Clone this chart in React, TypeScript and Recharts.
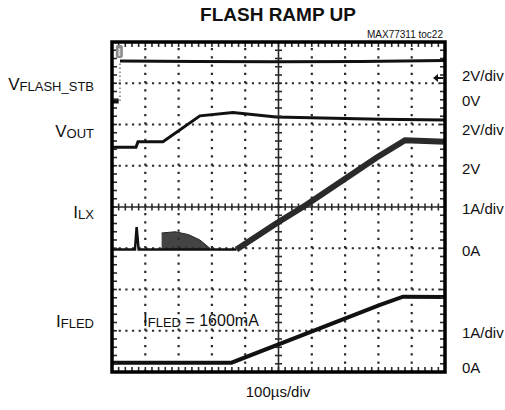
import React from 'react';
import { ComposedChart, Line, Area, XAxis, YAxis, ReferenceLine, ReferenceDot } from 'recharts';

// scope screen: 10 horizontal divisions, 8 vertical divisions
const divX = [0, 1, 2, 3, 4, 5, 6, 7, 8, 9, 10];
const divY = [0, 1, 2, 3, 4, 5, 6, 7, 8];

// traces in divisions (bottom = 0)
const vflashGround = [
  { x: 0, y: 6.57 },
  { x: 0.2, y: 6.57 },
];
const vflashEdge = [
  { x: 0.24, y: 6.57 },
  { x: 0.24, y: 7.54 },
];
const vflash = [
  { x: 0.24, y: 7.54 },
  { x: 2.5, y: 7.53 },
  { x: 5, y: 7.52 },
  { x: 7.5, y: 7.53 },
  { x: 10, y: 7.55 },
];
const vout = [
  { x: 0, y: 5.45 },
  { x: 0.72, y: 5.45 },
  { x: 0.78, y: 5.58 },
  { x: 1.53, y: 5.58 },
  { x: 2.64, y: 6.21 },
  { x: 3.63, y: 6.29 },
  { x: 4.93, y: 6.18 },
  { x: 8.05, y: 6.13 },
  { x: 10, y: 6.11 },
];
const ilxBase = [
  { x: 0, y: 2.97 },
  { x: 0.69, y: 2.97 },
  { x: 0.74, y: 3.51 },
  { x: 0.8, y: 2.97 },
  { x: 3.74, y: 2.97 },
];
const ilxNoise = [
  { x: 1.49, band: [2.97, 3.37] },
  { x: 1.9, band: [2.97, 3.4] },
  { x: 2.3, band: [2.97, 3.33] },
  { x: 2.64, band: [2.97, 3.2] },
  { x: 2.94, band: [2.97, 3.0] },
];
const ilxRamp = [
  { x: 3.74, y: 2.97 },
  { x: 4.93, y: 3.6 },
  { x: 5.85, y: 4.06 },
  { x: 7.95, y: 5.2 },
  { x: 8.8, y: 5.62 },
  { x: 10, y: 5.58 },
];
const ifled = [
  { x: 0, y: 0.225 },
  { x: 3.59, y: 0.225 },
  { x: 8.05, y: 1.63 },
  { x: 8.74, y: 1.825 },
  { x: 10, y: 1.82 },
];

// minor graticule ticks every 0.2 div
const steps = (n: number) => Array.from({ length: n + 1 }, (_, i) => +(i * 0.2).toFixed(2));
const ticksX = steps(50);
const ticksY = steps(40);

const FONT = "'Liberation Sans Narrow', 'Arial Narrow', 'Liberation Sans', Arial, sans-serif";
const GRID = '#2a2a2a';
const W = 505;
const H = 410;
const M = { top: 42, right: 60, bottom: 38, left: 112 };

const tick = (dx1: number, dx2: number, dy1: number, dy2: number) => (p: any) => (
  <line
    x1={p.cx + dx1}
    x2={p.cx + dx2}
    y1={p.cy + dy1}
    y2={p.cy + dy2}
    stroke={GRID}
    strokeWidth={1.6}
  />
);

const trigger = (p: any) => (
  <g>
    <rect x={p.cx - 3.5} y={p.cy - 6} width={7} height={13} rx={2} fill="#8a8a8a" />
    <rect x={p.cx - 1} y={p.cy - 3} width={2} height={8} fill="#d0d0d0" />
  </g>
);

const arrow = (p: any) => (
  <path d={`M${p.cx - 5},${p.cy} L${p.cx},${p.cy - 4} L${p.cx},${p.cy + 4} Z M${p.cx},${p.cy - 1} h5 v2 h-5 Z`} fill="#111" />
);

function Labels() {
  return (
    <svg
      width={W}
      height={H}
      style={{ position: 'absolute', left: 0, top: 0, pointerEvents: 'none' }}
      fontFamily={FONT}
      fill="#111"
    >
      <rect
        x={M.left}
        y={M.top}
        width={W - M.left - M.right}
        height={H - M.top - M.bottom}
        fill="none"
        stroke="#000"
        strokeWidth={3.5}
      />
      <text x={278} y={21} textAnchor="middle" fontSize={19} fontWeight="bold">
        FLASH RAMP UP
      </text>
      <text x={443} y={38} textAnchor="end" fontSize={10}>
        MAX77311 toc22
      </text>

      <text x={94} y={90} textAnchor="end" fontSize={17}>
        V<tspan fontSize={13} dy={1}>FLASH_STB</tspan>
      </text>
      <text x={94} y={137} textAnchor="end" fontSize={17}>
        V<tspan fontSize={13} dy={1}>OUT</tspan>
      </text>
      <text x={94} y={218} textAnchor="end" fontSize={17}>
        I<tspan fontSize={13} dy={1}>LX</tspan>
      </text>
      <text x={94} y={327} textAnchor="end" fontSize={17}>
        I<tspan fontSize={13} dy={1}>FLED</tspan>
      </text>

      <text x={143} y={326} fontSize={17}>
        I<tspan fontSize={13} dy={1}>FLED</tspan>
        <tspan fontSize={16} dy={-1}> = 1600mA</tspan>
      </text>

      <g fontSize={15}>
        <text x={462} y={81}>2V/div</text>
        <text x={462} y={106}>0V</text>
        <text x={462} y={135}>2V/div</text>
        <text x={462} y={174}>2V</text>
        <text x={462} y={214}>1A/div</text>
        <text x={462} y={256}>0A</text>
        <text x={462} y={338}>1A/div</text>
        <text x={462} y={373}>0A</text>
      </g>

      <text x={278} y={397} textAnchor="middle" fontSize={15}>
        100µs/div
      </text>
    </svg>
  );
}

export default function App() {
  return (
    <div style={{ position: 'absolute', left: 0, top: 0, width: W, height: H, background: '#fff' }}>
      <ComposedChart width={W} height={H} margin={M}>
        <XAxis type="number" dataKey="x" domain={[0, 10]} ticks={divX} hide allowDataOverflow />
        <YAxis type="number" dataKey="y" domain={[0, 8]} ticks={divY} hide allowDataOverflow />

        {/* dotted graticule */}
        {divX
          .filter((v) => v > 0 && v < 10 && v !== 5)
          .map((v) => (
            <ReferenceLine key={`gx${v}`} x={v} stroke={GRID} strokeWidth={2.2} strokeDasharray="2.2 6.05" />
          ))}
        {divY
          .filter((v) => v > 0 && v < 8 && v !== 4)
          .map((v) => (
            <ReferenceLine key={`gy${v}`} y={v} stroke={GRID} strokeWidth={2.2} strokeDasharray="2.2 4.46" />
          ))}
        <ReferenceLine x={5} stroke={GRID} strokeWidth={1.6} />
        <ReferenceLine y={4} stroke={GRID} strokeWidth={1.6} />

        {/* minor ticks on the centre axes and the frame */}
        {ticksX.map((v) => (
          <ReferenceDot key={`cx${v}`} x={v} y={4} r={1} shape={tick(0, 0, -3.5, 3.5)} ifOverflow="visible" />
        ))}
        {ticksY.map((v) => (
          <ReferenceDot key={`cy${v}`} x={5} y={v} r={1} shape={tick(-3.5, 3.5, 0, 0)} ifOverflow="visible" />
        ))}
        {ticksX.map((v) => (
          <ReferenceDot key={`tx${v}`} x={v} y={8} r={1} shape={tick(0, 0, 0, 5)} ifOverflow="visible" />
        ))}
        {ticksX.map((v) => (
          <ReferenceDot key={`bx${v}`} x={v} y={0} r={1} shape={tick(0, 0, -5, 0)} ifOverflow="visible" />
        ))}
        {ticksY.map((v) => (
          <ReferenceDot key={`ly${v}`} x={0} y={v} r={1} shape={tick(0, 5, 0, 0)} ifOverflow="visible" />
        ))}
        {ticksY.map((v) => (
          <ReferenceDot key={`ry${v}`} x={10} y={v} r={1} shape={tick(-5, 0, 0, 0)} ifOverflow="visible" />
        ))}

        <Area
          data={ilxNoise}
          dataKey="band"
          type="linear"
          stroke="#222"
          strokeWidth={1}
          fill="#303030"
          fillOpacity={0.9}
          isAnimationActive={false}
        />
        <Line data={vflashGround} dataKey="y" type="linear" stroke="#111" strokeWidth={5} dot={false} activeDot={false} isAnimationActive={false} />
        <Line data={vflashEdge} dataKey="y" type="linear" stroke="#777" strokeWidth={1.5} strokeDasharray="1.5 2.5" dot={false} activeDot={false} isAnimationActive={false} />
        <Line data={vflash} dataKey="y" type="linear" stroke="#111" strokeWidth={3} dot={false} activeDot={false} isAnimationActive={false} />
        <Line data={vout} dataKey="y" type="linear" stroke="#111" strokeWidth={3} dot={false} activeDot={false} isAnimationActive={false} />
        <Line data={ilxBase} dataKey="y" type="linear" stroke="#111" strokeWidth={2.5} dot={false} activeDot={false} isAnimationActive={false} />
        <Line data={ilxRamp} dataKey="y" type="linear" stroke="#2a2a2a" strokeWidth={6} dot={false} activeDot={false} isAnimationActive={false} />
        <Line data={ifled} dataKey="y" type="linear" stroke="#111" strokeWidth={4} dot={false} activeDot={false} isAnimationActive={false} />

        <ReferenceDot x={0.22} y={7.78} r={4} shape={trigger} ifOverflow="visible" />
        <ReferenceDot x={9.79} y={7.13} r={4} shape={arrow} ifOverflow="visible" />
      </ComposedChart>
      <Labels />
    </div>
  );
}
